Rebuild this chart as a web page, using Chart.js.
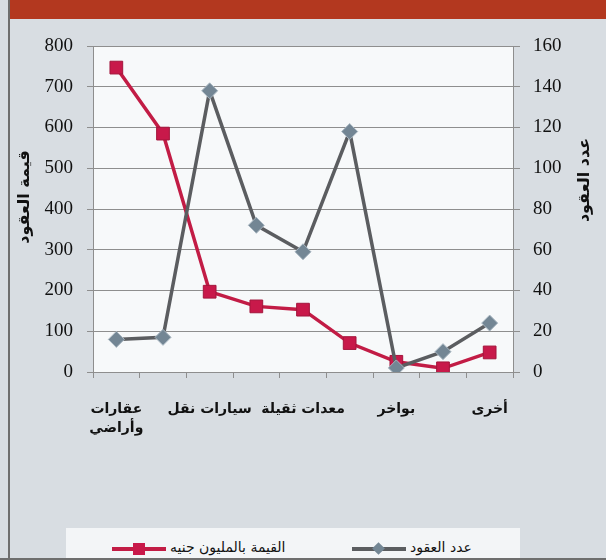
<!DOCTYPE html>
<html>
<head>
<meta charset="utf-8">
<script src="https://cdn.jsdelivr.net/npm/chart.js@4.4.1/dist/chart.umd.min.js"></script>
<style>
body{margin:0;}
#wrap{position:relative;width:606px;height:560px;background:#d8dde2;overflow:hidden;}
#head{position:absolute;left:10px;top:0;width:596px;height:19px;background:#b3381f;}
#edge{position:absolute;left:8px;top:0;width:2px;height:560px;background:#6e6e6e;}
#foot{position:absolute;left:0;top:558px;width:606px;height:2px;background:#6e6e6e;}
#legend{position:absolute;left:66px;top:528px;width:454px;height:32px;background:#f3f5f7;}
.item{position:absolute;top:0;height:32px;}
.mk{position:absolute;top:19px;width:54px;height:4px;}
.mk i{position:absolute;display:block;}
.txt{position:absolute;left:58px;top:11px;white-space:nowrap;font:14px "DejaVu Sans";color:#111;}
canvas{position:absolute;left:0;top:0;}
</style>
</head>
<body>
<div id="wrap">
  <canvas id="lineChart" width="606" height="560"></canvas>
  <div id="head"></div>
  <div id="edge"></div>
  <div id="legend"></div>
  <div id="foot"></div>
</div>
<script>
const categories = [['عقارات', 'وأراضي'], '', 'سيارات نقل', '', 'معدات ثقيلة', '', 'بواخر', '', 'أخرى'];
const valueLabel = 'القيمة بالمليون جنيه';
const valueData = [747, 585, 197, 161, 153, 71, 25, 9, 48];
const countLabel = 'عدد العقود';
const countData = [16, 17, 138, 72, 59, 118, 2, 10, 24];
const leftMax = 800, leftStep = 100;
const rightMax = 160, rightStep = 20;
const leftTitle = 'قيمة العقود';
const rightTitle = 'عدد العقود';

const gridColor = '#8e8e8e';

// plot area background + rotated axis titles
const extras = {
  id: 'extras',
  beforeDraw(chart) {
    const a = chart.chartArea, c = chart.ctx;
    c.save();
    c.fillStyle = '#f7f9fa';
    c.fillRect(a.left, a.top, a.right - a.left, a.bottom - a.top);
    c.restore();
  },
  afterDraw(chart) {
    const c = chart.ctx;
    c.save();
    c.font = 'bold 16px "DejaVu Sans"';
    c.fillStyle = '#111';
    c.textAlign = 'center';
    c.textBaseline = 'middle';
    [[25, 197, leftTitle], [585, 180, rightTitle]].forEach(t => {
      c.save();
      c.translate(t[0], t[1]);
      c.rotate(-Math.PI / 2);
      c.fillText(t[2], 0, 0);
      c.restore();
    });
    c.restore();
  }
};

const chart = new Chart(document.getElementById('lineChart'), {
  type: 'line',
  data: {
    labels: categories,
    datasets: [{
      label: valueLabel,
      data: valueData,
      yAxisID: 'y',
      order: 2,
      borderColor: '#c21c45',
      borderWidth: 3.5,
      pointStyle: 'rect',
      pointRadius: 9,
      pointBackgroundColor: '#c8194a',
      pointBorderColor: '#a3163c',
      pointBorderWidth: 1,
      tension: 0
    }, {
      label: countLabel,
      data: countData,
      yAxisID: 'y1',
      order: 1,
      borderColor: '#5b5d60',
      borderWidth: 3.5,
      pointStyle: 'rectRot',
      pointRadius: 8,
      pointBackgroundColor: '#738694',
      pointBorderColor: '#a9b7c1',
      pointBorderWidth: 1,
      tension: 0
    }]
  },
  options: {
    responsive: false,
    animation: false,
    layout: { padding: { top: 46, left: 0, right: 0, bottom: 0 } },
    plugins: { legend: { display: false }, tooltip: { enabled: false } },
    scales: {
      x: {
        offset: true,
        grid: { offset: true, drawOnChartArea: false, tickLength: 6, color: gridColor },
        border: { color: gridColor },
        ticks: {
          autoSkip: false, maxRotation: 0, padding: 22, color: '#111',
          font: { family: 'DejaVu Sans', size: 14, weight: 'bold', lineHeight: 1.35 }
        },
        afterFit(s) { s.height = 188; }
      },
      y: {
        position: 'left',
        min: 0, max: leftMax,
        grid: { color: gridColor, tickLength: 6 },
        border: { color: gridColor },
        ticks: { stepSize: leftStep, padding: 14, color: '#111', font: { family: 'Liberation Serif', size: 19 } },
        afterFit(s) { s.width = 93; }
      },
      y1: {
        position: 'right',
        min: 0, max: rightMax,
        grid: { drawOnChartArea: false, color: gridColor, tickLength: 7 },
        border: { color: gridColor },
        ticks: { stepSize: rightStep, padding: 13, color: '#111', font: { family: 'Liberation Serif', size: 19 } },
        afterFit(s) { s.width = 93; }
      }
    }
  },
  plugins: [extras]
});

// legend: line with marker, then text
const legend = document.getElementById('legend');
const lefts = [46, 286];
chart.data.datasets.forEach((ds, i) => {
  const item = document.createElement('div');
  item.className = 'item';
  item.style.left = lefts[i] + 'px';
  const mk = document.createElement('div');
  mk.className = 'mk';
  mk.style.background = ds.borderColor;
  const dot = document.createElement('i');
  dot.style.background = ds.pointBackgroundColor;
  if (ds.pointStyle === 'rect') {
    dot.style.cssText += 'left:21px;top:-4px;width:12px;height:12px;';
  } else {
    dot.style.cssText += 'left:22px;top:-3px;width:9px;height:9px;transform:rotate(45deg);';
  }
  mk.appendChild(dot);
  const txt = document.createElement('span');
  txt.className = 'txt';
  txt.textContent = ds.label;
  item.appendChild(mk);
  item.appendChild(txt);
  legend.appendChild(item);
});
</script>
</body>
</html>
